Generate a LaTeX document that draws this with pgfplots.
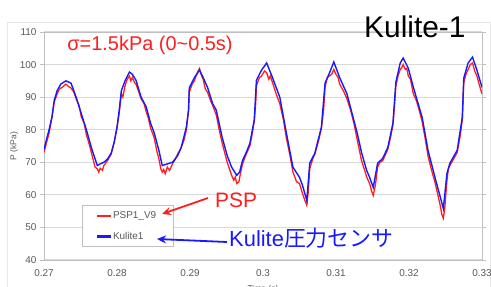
\documentclass[border=0pt]{standalone}
\usepackage{pgfplots}
\pgfplotsset{compat=1.18}
\usepackage{fontspec}
\setmainfont{Liberation Sans}
\newfontfamily\cjk{Noto Sans CJK JP}
\usetikzlibrary{arrows.meta}
\definecolor{pspred}{RGB}{255,30,30}
\definecolor{kblue}{RGB}{25,25,255}
\definecolor{tickgray}{RGB}{89,89,89}
\definecolor{gridgray}{RGB}{217,217,217}
\definecolor{axgray}{RGB}{191,191,191}

\pgfplotstableread{
t P
0.2700 74.0
0.2704 77.5
0.2707 80.0
0.2711 84.0
0.2714 89.0
0.2718 92.0
0.2723 94.0
0.2730 95.0
0.2737 94.3
0.2744 90.0
0.2751 85.0
0.2758 80.0
0.2766 73.7
0.2773 69.0
0.2777 69.5
0.2782 70.0
0.2787 71.0
0.2792 72.8
0.2796 76.0
0.2800 80.8
0.2803 86.0
0.2806 92.0
0.2811 95.0
0.2817 97.7
0.2821 97.0
0.2826 95.2
0.2833 90.0
0.2840 87.0
0.2846 82.0
0.2851 79.0
0.2857 74.0
0.2862 69.0
0.2869 69.5
0.2876 70.0
0.2883 72.0
0.2888 74.6
0.2895 80.8
0.2898 86.0
0.2899 92.8
0.2906 96.0
0.2913 98.3
0.2918 96.0
0.2924 93.0
0.2931 88.0
0.2936 86.0
0.2944 77.7
0.2951 72.0
0.2957 68.5
0.2964 66.0
0.2968 67.0
0.2972 70.6
0.2977 73.0
0.2982 75.8
0.2988 83.0
0.2991 95.2
0.2998 98.3
0.3005 100.5
0.3013 96.0
0.3023 90.0
0.3032 79.0
0.3041 68.5
0.3050 65.4
0.3054 63.0
0.3060 58.3
0.3064 69.7
0.3071 72.8
0.3080 80.8
0.3085 94.3
0.3091 97.4
0.3097 100.8
0.3105 96.0
0.3115 91.0
0.3129 79.0
0.3135 73.0
0.3142 67.5
0.3146 65.4
0.3151 62.3
0.3157 69.7
0.3164 71.2
0.3171 74.6
0.3178 82.0
0.3182 94.6
0.3188 100.5
0.3192 102.0
0.3199 98.9
0.3206 93.0
0.3218 83.8
0.3226 73.7
0.3236 65.0
0.3243 59.2
0.3247 55.8
0.3252 66.6
0.3256 69.7
0.3266 73.7
0.3273 83.8
0.3275 95.8
0.3281 100.5
0.3287 102.3
0.3293 98.3
0.3300 93.0
}\kulite

\pgfplotstableread{
t P
0.2700 73.0
0.2704 76.5
0.2707 79.0
0.2711 84.0
0.2714 88.5
0.2718 91.0
0.2721 92.5
0.2725 93.0
0.2730 94.0
0.2734 93.2
0.2737 92.8
0.2741 91.5
0.2744 89.5
0.2748 87.5
0.2751 84.0
0.2755 82.0
0.2758 78.5
0.2762 75.5
0.2766 72.0
0.2770 68.5
0.2773 68.0
0.2775 67.0
0.2777 68.2
0.2780 67.5
0.2782 69.0
0.2787 70.5
0.2792 72.5
0.2796 76.0
0.2800 80.5
0.2803 85.0
0.2806 91.0
0.2808 90.0
0.2811 93.5
0.2814 95.5
0.2817 96.5
0.2819 95.0
0.2821 96.0
0.2824 94.5
0.2826 94.0
0.2830 91.5
0.2833 89.5
0.2837 88.0
0.2840 85.5
0.2843 83.5
0.2846 80.5
0.2851 77.5
0.2855 73.0
0.2857 71.5
0.2860 68.0
0.2862 67.0
0.2864 67.8
0.2866 66.5
0.2869 68.5
0.2872 67.5
0.2876 69.5
0.2880 71.0
0.2883 72.5
0.2888 74.5
0.2892 77.0
0.2895 80.0
0.2898 86.0
0.2899 91.5
0.2903 94.0
0.2906 95.0
0.2910 97.5
0.2913 98.8
0.2916 96.5
0.2918 95.5
0.2921 92.5
0.2924 91.5
0.2928 89.0
0.2931 87.5
0.2936 84.5
0.2940 80.0
0.2944 76.0
0.2948 72.5
0.2951 70.0
0.2954 68.0
0.2957 66.0
0.2960 64.5
0.2962 65.5
0.2964 63.5
0.2967 64.0
0.2969 66.5
0.2972 69.5
0.2977 72.5
0.2982 75.0
0.2985 78.5
0.2988 82.5
0.2990 88.0
0.2991 93.5
0.2995 96.0
0.2998 96.5
0.3002 98.0
0.3005 97.5
0.3008 95.5
0.3010 96.5
0.3013 94.5
0.3018 91.0
0.3023 88.0
0.3028 83.0
0.3032 77.5
0.3037 72.0
0.3041 67.0
0.3046 64.0
0.3050 63.5
0.3054 60.5
0.3057 58.5
0.3060 56.8
0.3062 61.0
0.3064 68.0
0.3068 71.0
0.3071 72.5
0.3076 76.5
0.3080 80.5
0.3083 86.0
0.3085 93.0
0.3088 96.0
0.3091 96.5
0.3094 97.0
0.3097 98.5
0.3100 97.0
0.3103 96.0
0.3105 94.0
0.3110 92.0
0.3115 89.5
0.3120 86.0
0.3125 81.5
0.3129 77.0
0.3135 70.5
0.3140 67.0
0.3142 65.5
0.3146 63.5
0.3149 61.0
0.3151 59.8
0.3154 63.0
0.3157 68.5
0.3160 70.0
0.3164 70.5
0.3168 72.5
0.3171 74.0
0.3175 78.0
0.3178 81.5
0.3180 87.0
0.3182 93.5
0.3185 96.5
0.3188 98.5
0.3190 99.0
0.3192 100.0
0.3195 98.5
0.3197 98.8
0.3199 96.5
0.3202 95.5
0.3206 91.0
0.3210 89.0
0.3214 86.0
0.3218 82.5
0.3222 77.5
0.3226 72.0
0.3231 67.5
0.3236 63.5
0.3240 59.5
0.3243 56.5
0.3245 54.0
0.3247 52.8
0.3249 56.0
0.3252 64.5
0.3254 68.0
0.3256 69.0
0.3261 71.0
0.3266 73.0
0.3270 78.0
0.3273 83.0
0.3275 94.5
0.3278 97.0
0.3281 98.5
0.3284 100.0
0.3287 100.5
0.3290 98.0
0.3293 96.5
0.3296 94.0
0.3300 91.0
}\psp

\begin{document}
\begin{tikzpicture}[x=1bp,y=1bp]
\useasboundingbox (0,0) rectangle (491,286);
\draw[gray!18, line width=0.8bp] (7,-5) -- (7,264) -- (490,264) -- (490,-5);
\begin{axis}[
  at={(44bp,26bp)}, anchor=south west,
  scale only axis, width=438bp, height=228bp,
  xmin=0.27, xmax=0.33, ymin=40, ymax=110,
  xtick={0.27,0.28,...,0.33},
  xticklabels={0.27,0.28,0.29,0.3,0.31,0.32,0.33},
  ytick={40,50,...,110},
  ymajorgrids, grid style={gridgray, line width=1.2bp},
  axis line style={axgray, line width=0.9bp},
  major tick length=4bp,
  xtick style={draw=none},
  ytick style={axgray, line width=0.9bp},
  tick align=outside,
  tick label style={font=\fontsize{10}{12}\selectfont, text=tickgray},
  /pgf/number format/assume math mode=true,
  xticklabel style={yshift=-2bp},
  ylabel={P (kPa)},
  ylabel style={font=\fontsize{8.5}{10}\selectfont, text=tickgray, at={(axis description cs:-0.068,0.5)}, anchor=center},
  xlabel={Time (s)},
  xlabel style={font=\fontsize{8.5}{10}\selectfont, text=tickgray, at={(axis description cs:0.5,-0.095)}, anchor=north},
  legend style={at={(rel axis cs:0.087,0.057)}, anchor=south west,
    draw=axgray, line width=0.6bp, font=\fontsize{10}{12}\selectfont,
    row sep=8bp, inner xsep=15bp, inner ysep=4bp},
  legend cell align=left,
  clip=true,
]
\addplot[color=pspred, line width=1.3bp, forget plot] table[x=t,y=P] {\psp};
\addplot[color=kblue, line width=1.4bp, forget plot] table[x=t,y=P] {\kulite};
\addlegendimage{legend image code/.code={\fill[pspred] (0bp,-0.6bp) rectangle (13bp,0.6bp);}}
\addlegendentry{\textcolor{tickgray}{PSP1\_V9}}
\addlegendimage{legend image code/.code={\fill[kblue] (0bp,-0.6bp) rectangle (13bp,0.6bp);}}
\addlegendentry{\textcolor{tickgray}{Kulite1}}
\end{axis}
\node[anchor=base west, inner sep=0, font=\fontsize{30}{34}\selectfont] at (364,249) {Kulite-1};
\node[anchor=base, inner sep=0, text=pspred, font=\fontsize{20}{24}\selectfont] at (150,236) {σ=1.5kPa (0\textasciitilde 0.5s)};
\node[anchor=base west, inner sep=0, text=pspred, font=\fontsize{21}{25}\selectfont] at (215,79) {PSP};
\node[anchor=base west, inner sep=0, text=kblue, font=\fontsize{22}{26}\selectfont] at (229,40) {Kulite{\cjk 圧力センサ}};
\draw[pspred, line width=1.8bp, -{Stealth[length=9bp,width=8bp]}] (208,88) -- (162,72);
\draw[kblue, line width=1.8bp, -{Stealth[length=9bp,width=8bp]}] (227,44) -- (157,47);
\end{tikzpicture}
\end{document}
